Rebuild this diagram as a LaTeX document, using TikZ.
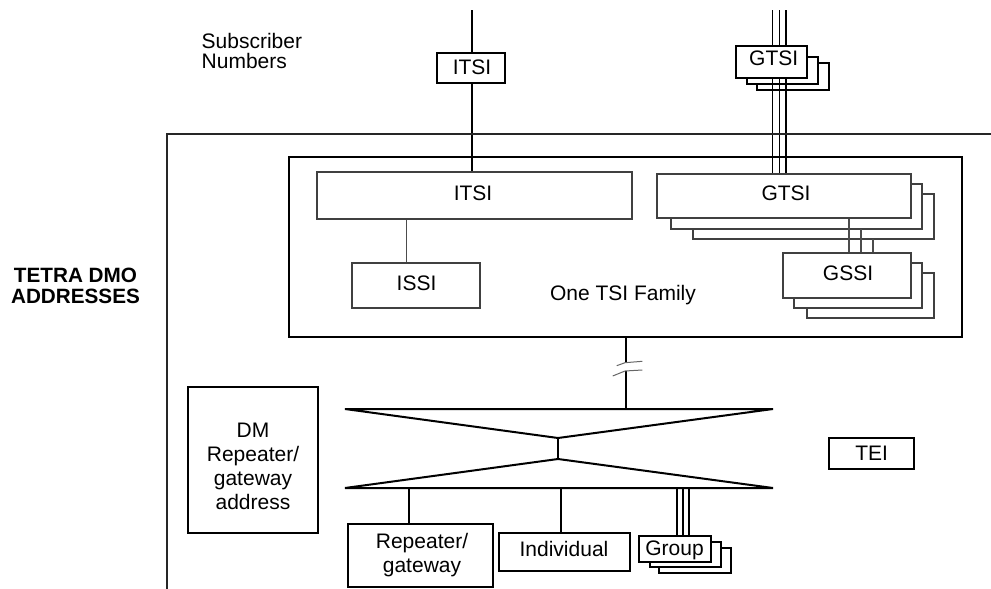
\documentclass[tikz,border=0pt]{standalone}
\usepackage{fontspec}
\setmainfont{Liberation Sans}
\pgfdeclarelayer{back}
\pgfdeclarelayer{mid}
\pgfsetlayers{back,mid,main}
\begin{document}
\begin{tikzpicture}[x=1pt,y=-1pt,
  every node/.style={font=\fontsize{21}{24}\selectfont, inner sep=0pt, outer sep=0pt},
  heavybox/.style={draw, line width=2pt, fill=white},
  lightbox/.style={draw=black!75, line width=1.2pt, fill=white},
  medbox/.style={draw, line width=1.6pt, fill=white},
  txt/.style={anchor=base},
  heavyline/.style={line width=2pt},
  lightline/.style={draw=black!70, line width=1.1pt},
  multiline/.style={line width=1.5pt},
  frameline/.style={line width=1.2pt, draw=black!85},
  breakline/.style={line width=1pt, draw=black!60}
]
\useasboundingbox (0,0) rectangle (991,589);

% outer frame (open at right and bottom)
\coordinate (frTL) at (167,134);
\draw[frameline] (991,134) -- (frTL) -- (167,589);

% labels outside
\node[txt, anchor=base west, align=left, font=\fontsize{21}{20}\selectfont] (subs) at (201.7,68.3) {Subscriber\\Numbers};
\node[anchor=north, align=center, font=\fontsize{20.7}{21}\bfseries] (tetra) at (75.5,268) {TETRA DMO\\ADDRESSES};

% One TSI family frame
\node[draw, line width=2pt, minimum width=673pt, minimum height=180pt] (tsi) at (625.5,247) {};

% inner boxes
\node[lightbox, minimum width=315pt, minimum height=47pt] (itsi) at (474.5,195.5) {};
\node[lightbox, minimum width=128pt, minimum height=45pt] (issi) at (416,285.5) {};
\begin{pgfonlayer}{back}
  \node[lightbox, minimum width=241pt, minimum height=45pt] (gtsi3) at (813.5,216.5) {};
  \node[lightbox, minimum width=251pt, minimum height=45pt] (gtsi2) at (796.5,206.5) {};
  \node[lightbox, minimum width=127pt, minimum height=45pt] (gssi3) at (870.5,295.5) {};
  \node[lightbox, minimum width=128pt, minimum height=45pt] (gssi2) at (858,285.5) {};
  % top GTSI copies
  \node[medbox, minimum width=72pt, minimum height=27pt] (tg3) at (793,76.5) {};
  \node[medbox, minimum width=71pt, minimum height=27pt] (tg2) at (782.5,70.5) {};
  % group copies
  \node[medbox, minimum width=72pt, minimum height=25pt] (grp3) at (695,560.5) {};
  \node[medbox, minimum width=71pt, minimum height=25pt] (grp2) at (685.5,554.5) {};
\end{pgfonlayer}
\node[lightbox, minimum width=254pt, minimum height=44pt] (gtsi) at (784,196) {};
\node[lightbox, minimum width=128pt, minimum height=45pt] (gssi) at (847,275.5) {};

% top boxes
\node[medbox, minimum width=68pt, minimum height=30pt] (titsi) at (471,68) {};
\node[medbox, minimum width=71pt, minimum height=32pt] (tgtsi) at (771.5,62) {};

% lower boxes
\node[heavybox, minimum width=130pt, minimum height=146pt] (dm) at (253,460) {};
\node[heavybox, minimum width=145pt, minimum height=63pt] (rep) at (420.5,555.5) {};
\node[heavybox, minimum width=131pt, minimum height=38pt] (ind) at (564.5,552) {};
\node[medbox, minimum width=72pt, minimum height=26pt] (grp) at (675,549) {};
\node[heavybox, minimum width=85pt, minimum height=31pt] (tei) at (871.5,453.5) {};

% hourglass
\coordinate (hgTL) at (345,409);
\coordinate (hgTR) at (773,409);
\coordinate (hgTtip) at (558,438);
\coordinate (hgBtip) at (558,459);
\coordinate (hgBL) at (345,488);
\coordinate (hgBR) at (773,488);
\draw[heavyline, line join=miter] (hgTL) -- (hgTR) -- (hgTtip) -- cycle;
\draw[heavyline, line join=miter] (hgBL) -- (hgBR) -- (hgBtip) -- cycle;
\draw[heavyline] (hgTtip) -- (hgBtip);

% connectors
\begin{pgfonlayer}{mid}
  \coordinate (inI) at (471.7,10);
  \draw[heavyline] (inI) -- (inI |- itsi.north);
  \coordinate (inG1) at (772.5,10);
  \coordinate (inG2) at (779.5,10);
  \coordinate (inG3) at (786,10);
  \foreach \c in {inG1,inG2,inG3}
    \draw[multiline] (\c) -- (\c |- gtsi.north);
  \draw[lightline] ([xshift=-9.3pt]issi.north) -- ([xshift=-9.3pt]issi.north |- itsi.south);
  \draw[lightline] ([xshift=2pt]gssi.north) -- ([xshift=2pt]gssi.north |- gtsi.south);
  \draw[lightline] ([xshift=14pt]gssi.north) -- ([xshift=14pt]gssi.north |- gtsi2.south);
  \draw[lightline] ([xshift=26pt]gssi.north) -- ([xshift=26pt]gssi.north |- gtsi3.south);
  % break in connector to hourglass
  \coordinate (hgTop) at (626,409);
  \coordinate (brkA) at (626,362.7);
  \coordinate (brkB) at (626,370.7);
  \draw[heavyline] (hgTop |- tsi.south) -- (brkA);
  \draw[heavyline] (brkB) -- (hgTop);
  \draw[breakline] (616.7,365.7) -- (625,362.7) -- (642.3,361.3);
  \draw[breakline] (612.7,376) -- (625,371) -- (642.3,370);
  % lower branches
  \draw[heavyline] ([xshift=-11.5pt]rep.north) -- ([xshift=-11.5pt]rep.north |- hgBL);
  \draw[heavyline] ([xshift=-3.5pt]ind.north) -- ([xshift=-3.5pt]ind.north |- hgBL);
  \foreach \dx in {2,8,14}
    \draw[multiline] ([xshift=\dx pt]grp.north) -- ([xshift=\dx pt]grp.north |- hgBL);
\end{pgfonlayer}

% texts
\node[txt] (titsiT) at (472,74) {ITSI};
\node[txt] (tgtsiT) at (773.7,65) {GTSI};
\node[txt] (itsiT) at (473,200) {ITSI};
\node[txt] (gtsiT) at (786,200) {GTSI};
\node[txt] (issiT) at (416.5,290.7) {ISSI};
\node[txt] (gssiT) at (848,280.7) {GSSI};
\node[txt, anchor=base west] (fam) at (550,300) {One TSI Family};
\node[anchor=north, align=center] (dmT) at (253,423) {DM\\Repeater/\\gateway\\address};
\node[txt] (teiT) at (871.7,460.7) {TEI};
\node[anchor=north, align=center] (repT) at (422,533.5) {Repeater/\\gateway};
\node[txt] (indT) at (564,556) {Individual};
\node[txt] (grpT) at (674.5,555) {Group};
\end{tikzpicture}
\end{document}
